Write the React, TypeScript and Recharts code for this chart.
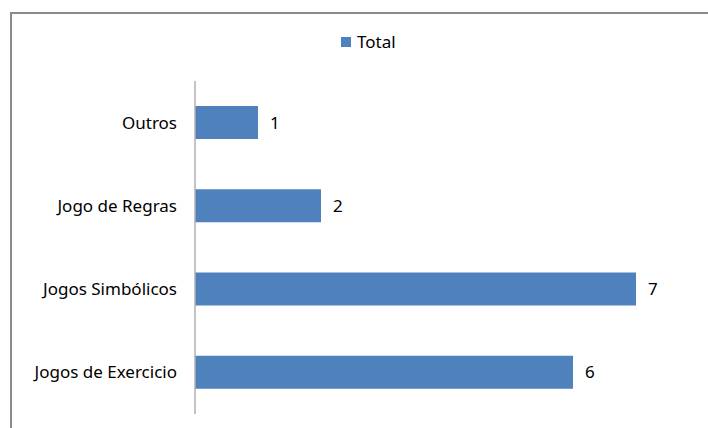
import React from 'react';
import { BarChart, Bar, XAxis, YAxis, LabelList } from 'recharts';

const categories = ['Outros', 'Jogo de Regras', 'Jogos Simbólicos', 'Jogos de Exercicio'];
const totals = [1, 2, 7, 6];
const xTicks = [0, 1, 2, 3, 4, 5, 6, 7, 8];
const seriesName = 'Total';

const data = categories.map((name, i) => ({ name, total: totals[i] }));

const FONT = '"Noto Sans", sans-serif';

export default function App() {
  return (
    <div style={{ position: 'absolute', top: 0, left: 0, width: 708, height: 428, background: '#fff', overflow: 'hidden' }}>
      <div
        style={{
          position: 'absolute',
          left: 10,
          top: 12,
          width: 720,
          height: 440,
          borderLeft: '2px solid #8a8a8a',
          borderTop: '2px solid #8a8a8a',
        }}
      />
      {/* legend sits above the plot, Excel style */}
      <div
        style={{
          position: 'absolute',
          top: 30,
          left: 341,
          display: 'flex',
          alignItems: 'center',
          fontFamily: FONT,
          fontSize: 17,
          color: '#000',
        }}
      >
        <span style={{ display: 'inline-block', width: 10, height: 10, background: '#4F81BD', marginRight: 6 }} />
        <span>{seriesName}</span>
      </div>
      <BarChart
        width={708}
        height={428}
        data={data}
        layout="vertical"
        margin={{ top: 81, right: 9, bottom: 14, left: 0 }}
        style={{ position: 'absolute', top: 0, left: 0 }}
      >
        <XAxis type="number" domain={[0, 8]} ticks={xTicks} hide />
        <YAxis
          type="category"
          dataKey="name"
          width={195}
          axisLine={{ stroke: '#b0b0b0', strokeWidth: 1.5 }}
          tickLine={false}
          tickSize={0}
          tickMargin={18}
          tick={{ fontSize: 17, fill: '#000', fontFamily: FONT }}
        />
        <Bar dataKey="total" name={seriesName} fill="#4F81BD" barSize={33} isAnimationActive={false}>
          <LabelList dataKey="total" position="right" offset={12} style={{ fontSize: 17, fill: '#000', fontFamily: FONT }} />
        </Bar>
      </BarChart>
    </div>
  );
}
